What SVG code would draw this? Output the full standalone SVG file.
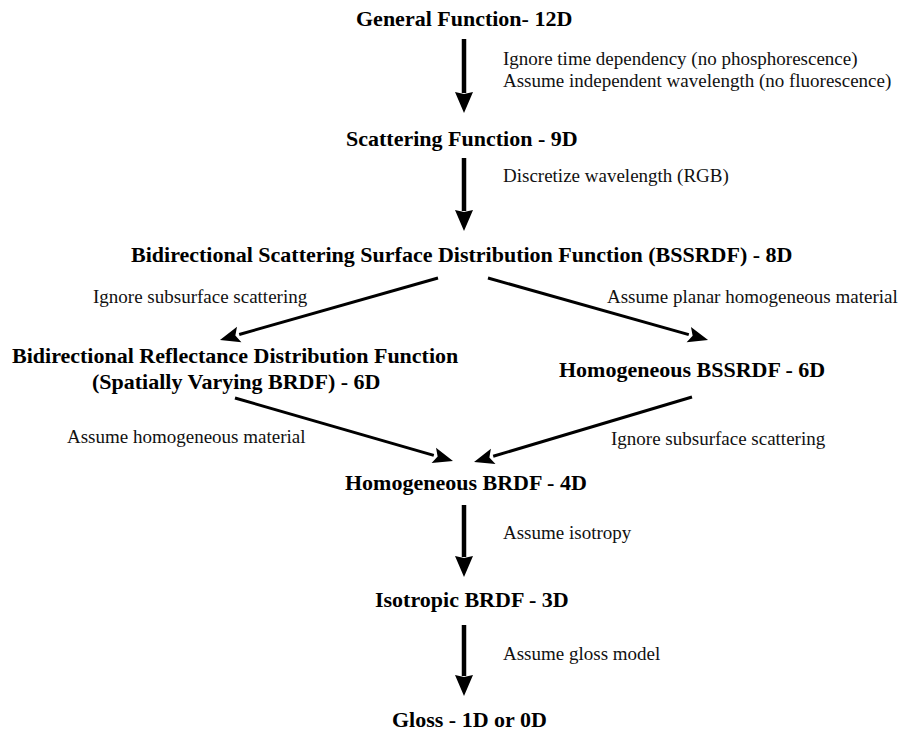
<svg xmlns="http://www.w3.org/2000/svg" width="898" height="731" viewBox="0 0 898 731">
<style>
  .node { font-family: 'Liberation Serif', 'DejaVu Serif', serif; font-weight: bold; font-size: 22px; fill: #000; }
  .lbl { font-family: 'Liberation Serif', 'DejaVu Serif', serif; font-size: 19px; fill: #111; }
  .vshaft { stroke: #000; stroke-width: 4.5; fill: none; }
  .dshaft { stroke: #000; stroke-width: 3; fill: none; }
</style>
<defs>
  <marker id="headV" markerUnits="userSpaceOnUse" viewBox="0 0 21 18" markerWidth="21" markerHeight="18" refX="1" refY="9" orient="auto" overflow="visible">
    <path d="M0,0 L21,9 L0,18 L2,9 z" fill="#000"/>
  </marker>
  <marker id="headD" markerUnits="userSpaceOnUse" viewBox="0 0 20 16" markerWidth="20" markerHeight="16" refX="0" refY="8" orient="auto" overflow="visible">
    <path d="M0,0 L20,8 L0,16 L4,8 z" fill="#000"/>
  </marker>
</defs>
<rect x="0" y="0" width="898" height="731" fill="#fff"/>

<g id="connectors">
  <line class="vshaft" x1="464" y1="39" x2="464" y2="93" marker-end="url(#headV)"/>
  <line class="vshaft" x1="464" y1="158" x2="464" y2="211" marker-end="url(#headV)"/>
  <line class="dshaft" x1="438" y1="278" x2="239.2" y2="334.5" marker-end="url(#headD)"/>
  <line class="dshaft" x1="488" y1="278" x2="688.8" y2="334.6" marker-end="url(#headD)"/>
  <line class="dshaft" x1="235" y1="398" x2="433.8" y2="455.4" marker-end="url(#headD)"/>
  <line class="dshaft" x1="692" y1="397" x2="493.2" y2="456.3" marker-end="url(#headD)"/>
  <line class="vshaft" x1="464" y1="505" x2="464" y2="557" marker-end="url(#headV)"/>
  <line class="vshaft" x1="464" y1="625" x2="464" y2="676" marker-end="url(#headV)"/>

  <g font-family="Liberation Serif, DejaVu Serif, serif">
  <text class="lbl" x="503" y="65">Ignore time dependency (no phosphorescence)</text>
  <text class="lbl" x="503" y="87">Assume independent wavelength (no fluorescence)</text>
  <text class="lbl" x="503" y="182">Discretize wavelength (RGB)</text>
  <text class="lbl" x="93" y="303">Ignore subsurface scattering</text>
  <text class="lbl" x="607" y="303">Assume planar homogeneous material</text>
  <text class="lbl" x="67" y="443">Assume homogeneous material</text>
  <text class="lbl" x="611" y="445">Ignore subsurface scattering</text>
  <text class="lbl" x="503" y="539">Assume isotropy</text>
  <text class="lbl" x="503" y="660">Assume gloss model</text>
  </g>
</g>

<g font-family="Liberation Serif, DejaVu Serif, serif">
<g id="general"><text class="node" x="356" y="26">General Function- 12D</text></g>
<g id="scattering"><text class="node" x="346" y="146">Scattering Function - 9D</text></g>
<g id="bssrdf"><text class="node" x="131" y="262">Bidirectional Scattering Surface Distribution Function (BSSRDF) - 8D</text></g>
<g id="svbrdf">
  <text class="node" x="12" y="363">Bidirectional Reflectance Distribution Function</text>
  <text class="node" x="92" y="389">(Spatially Varying BRDF) - 6D</text>
</g>
<g id="hbssrdf"><text class="node" x="559" y="377">Homogeneous BSSRDF - 6D</text></g>
<g id="hbrdf"><text class="node" x="345" y="490">Homogeneous BRDF - 4D</text></g>
<g id="isobrdf"><text class="node" x="375" y="607">Isotropic BRDF - 3D</text></g>
<g id="gloss"><text class="node" x="392" y="727">Gloss - 1D or 0D</text></g>
</g>
</svg>
